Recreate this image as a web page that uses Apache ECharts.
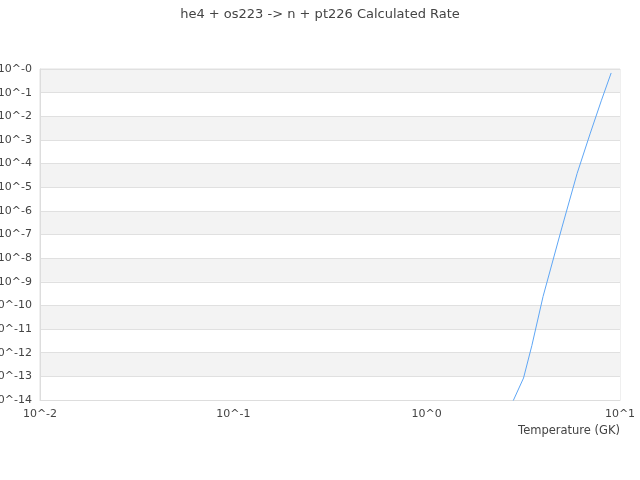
<!DOCTYPE html>
<html>
<head>
<meta charset="utf-8">
<script src="https://cdn.jsdelivr.net/npm/echarts@6/dist/echarts.min.js"></script>
<style>
  html, body { margin: 0; padding: 0; background: #fff; }
  #chart { width: 640px; height: 480px; }
</style>
</head>
<body>
<div id="chart"></div>
<script>
// temperature (GK) and calculated rate
var temps = [2.5, 3.17, 3.5, 4, 5, 6, 7, 8, 9];
var rates = [1.2e-15, 8.5e-14, 2.0e-12, 2.4e-10, 1.9e-7, 3.8e-5, 1.8e-3, 4.5e-2, 0.68];

var rateChart = echarts.init(document.getElementById('chart'));

var points = [];
for (var i in temps) {
    points.push([temps[i], rates[i]]);
}

var option = {
    backgroundColor: '#fff',
    title: {
        text: 'he4 + os223 -> n + pt226 Calculated Rate',
        left: 'center',
        top: 3,
        textStyle: {
            color: '#444',
            fontSize: 13,
            fontWeight: 'normal',
            fontFamily: 'DejaVu Sans'
        }
    },
    grid: {
        left: 40,
        right: 20,
        top: 69,
        bottom: 80,
        containLabel: false,
        outerBoundsMode: 'none',
        show: true,
        borderColor: '#e0e0e0',
        borderWidth: 1
    },
    xAxis: {
        type: 'log',
        logBase: 10,
        min: 0.01,
        max: 10,
        name: 'Temperature (GK)',
        nameLocation: 'end',
        nameGap: 0,
        nameTextStyle: {
            color: '#444',
            fontSize: 11.5,
            fontFamily: 'DejaVu Sans',
            align: 'right',
            verticalAlign: 'top',
            padding: [25, 0, 0, 0]
        },
        axisLine: { show: true, lineStyle: { color: '#ddd' } },
        axisTick: { show: false },
        splitLine: { show: false },
        axisLabel: {
            color: '#444',
            fontSize: 11,
            fontFamily: 'DejaVu Sans',
            margin: 9,
            formatter: function (v) {
                return '10^' + Math.round(Math.log10(v));
            }
        }
    },
    yAxis: {
        type: 'log',
        logBase: 10,
        min: 1e-14,
        max: 1,
        interval: 1,
        axisLine: { show: true, lineStyle: { color: '#ddd' } },
        axisTick: { show: false },
        splitLine: { show: true, lineStyle: { color: '#e0e0e0' } },
        splitArea: { show: true, areaStyle: { color: ['#ffffff', '#f3f3f3'] } },
        axisLabel: {
            color: '#444',
            fontSize: 11,
            fontFamily: 'DejaVu Sans',
            margin: 8,
            formatter: function (v) {
                return '10^-' + Math.abs(Math.round(Math.log10(v)));
            }
        }
    },
    series: [{
        type: 'line',
        data: points,
        showSymbol: false,
        clip: true,
        lineStyle: { color: '#5ea6f5', width: 1 },
        itemStyle: { color: '#5ea6f5' },
        animation: false
    }]
};
rateChart.setOption(option);
</script>
</body>
</html>
